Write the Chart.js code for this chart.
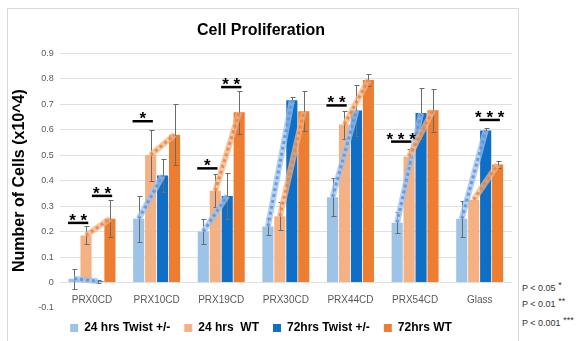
<!DOCTYPE html>
<html>
<head>
<meta charset="utf-8">
<script src="https://cdn.jsdelivr.net/npm/chart.js@4.4.0/dist/chart.umd.min.js"></script>
<style>
    body { margin: 0; background: #fff; width: 576px; height: 341px; overflow: hidden; position: relative; font-family: 'Liberation Sans', Arial, sans-serif; }
    #frame { position: absolute; left: 7px; top: 8px; width: 512px; height: 345px; border: 1px solid #d9d9d9; box-sizing: border-box; }
    #wrap { position: absolute; left: 8px; top: 9px; width: 510px; height: 335px; }
    .pv { position: absolute; left: 522px; font-size: 9px; color: #333; white-space: nowrap; line-height: 10px; }
    .pv span { font-size: 9px; position: relative; top: -3px; }
</style>
</head>
<body>
<div id="frame"></div>
<div id="wrap"><canvas id="cellChart"></canvas></div>
<div class="pv" style="top:283px">P &lt; 0.05 <span>*</span></div>
<div class="pv" style="top:299px">P &lt; 0.01 <span>**</span></div>
<div class="pv" style="top:318px">P &lt; 0.001 <span>***</span></div>
<script>
// Data
const categories = ['PRX0CD', 'PRX10CD', 'PRX19CD', 'PRX30CD', 'PRX44CD', 'PRX54CD', 'Glass'];
const twist24 = [0.015, 0.25, 0.2, 0.22, 0.335, 0.235, 0.25];
const twist24Err = [0.04, 0.09, 0.05, 0.035, 0.075, 0.04, 0.07];
const wt24 = [0.185, 0.5, 0.36, 0.26, 0.62, 0.495, 0.325];
const wt24Err = [0.035, 0.1, 0.065, 0.055, 0.055, 0.03, 0];
const twist72 = [0.005, 0.42, 0.34, 0.715, 0.675, 0.665, 0.597];
const twist72Err = [0.005, 0.065, 0.09, 0.012, 0.1, 0.1, 0.01];
const wt72 = [0.25, 0.58, 0.668, 0.672, 0.795, 0.676, 0.463];
const wt72Err = [0.072, 0.12, 0.085, 0.078, 0.025, 0.085, 0.015];

// Significance markers: category, pair (24 / 72), level, stars
const sigCategory = [0, 0, 1, 2, 2, 4, 5, 6];
const sigPair = [24, 72, 24, 24, 72, 24, 24, 72];
const sigLevel = [0.234, 0.34, 0.633, 0.448, 0.767, 0.695, 0.553, 0.638];
const sigStars = ['**', '**', '*', '*', '**', '**', '***', '***'];

const FONT = "'Liberation Sans', Arial, sans-serif";

/**
 * Error bars, dotted trend lines, significance bars
 */
const overlayPlugin = {
    id: 'overlays',
    afterDatasetsDraw(chart) {
        const c = chart.ctx;
        const yScale = chart.scales.y;
        const metas = [0, 1, 2, 3].map(i => chart.getDatasetMeta(i));
        const values = [twist24, wt24, twist72, wt72];
        const errors = [twist24Err, wt24Err, twist72Err, wt72Err];

        c.save();
        // error bars
        c.strokeStyle = '#6b6b6b';
        c.lineWidth = 1;
        errors.forEach(function(errs, d) {
            metas[d].data.forEach(function(bar, j) {
                if (!errs[j]) return;
                const top = Math.round(yScale.getPixelForValue(values[d][j] + errs[j])) + 0.5;
                const bot = Math.round(yScale.getPixelForValue(values[d][j] - errs[j])) + 0.5;
                const x = Math.round(bar.x) + 0.5;
                c.beginPath();
                c.moveTo(x, top); c.lineTo(x, bot);
                c.moveTo(x - 2, top); c.lineTo(x + 3, top);
                c.moveTo(x - 2, bot); c.lineTo(x + 3, bot);
                c.stroke();
            });
        });

        // dotted trend lines 24hrs -> 72hrs
        function dotted(from, to, band, dot) {
            c.beginPath();
            c.moveTo(from.x, from.y);
            c.lineTo(to.x, to.y);
            c.setLineDash([]);
            c.strokeStyle = band;
            c.lineWidth = 6;
            c.stroke();
            c.setLineDash([3, 3]);
            c.strokeStyle = dot;
            c.lineWidth = 3;
            c.stroke();
        }
        for (let j = 0; j < categories.length; j++) {
            dotted(metas[0].data[j], metas[2].data[j], 'rgba(157,195,235,0.75)', 'rgba(95,150,225,0.9)');
            dotted(metas[1].data[j], metas[3].data[j], 'rgba(246,180,135,0.75)', 'rgba(238,130,60,0.85)');
        }
        c.setLineDash([]);

        // significance
        c.strokeStyle = '#000';
        c.fillStyle = '#000';
        c.lineWidth = 2.5;
        c.font = 'bold 17px ' + FONT;
        c.textAlign = 'center';
        c.textBaseline = 'alphabetic';
        sigCategory.forEach(function(cat, k) {
            const a = metas[sigPair[k] === 24 ? 0 : 2].data[cat];
            const b = metas[sigPair[k] === 24 ? 1 : 3].data[cat];
            const x1 = a.x - a.width * 0.55;
            const x2 = b.x + b.width * 0.2;
            const y = yScale.getPixelForValue(sigLevel[k]);
            c.beginPath();
            c.moveTo(x1, y); c.lineTo(x2, y);
            c.stroke();
            c.fillText(sigStars[k].split('').join(' '), (x1 + x2) / 2, y + 3);
        });
        c.restore();
    }
};

function barSet(label, data, color) {
    return {
        label: label,
        data: data,
        backgroundColor: color,
        borderWidth: 0,
        categoryPercentage: 0.74,
        barPercentage: 0.93
    };
}

new Chart(document.getElementById('cellChart'), {
    type: 'bar',
    data: {
        labels: categories,
        datasets: [
            barSet('24 hrs Twist +/-', twist24, '#9DC3E6'),
            barSet('24 hrs  WT', wt24, '#F4B183'),
            barSet('72hrs Twist +/-', twist72, '#0F6FC6'),
            barSet('72hrs WT', wt72, '#ED7D31')
        ]
    },
    plugins: [overlayPlugin],
    options: {
        responsive: true,
        maintainAspectRatio: false,
        animation: false,
        layout: { padding: { left: 2, right: 6, top: 0, bottom: 0 } },
        plugins: {
            title: {
                display: true,
                text: 'Cell Proliferation',
                color: '#000',
                font: { family: FONT, size: 16, weight: 'bold' },
                padding: { top: 12, bottom: 13 }
            },
            legend: {
                position: 'bottom',
                labels: {
                    boxWidth: 8,
                    boxHeight: 8,
                    padding: 14,
                    color: '#000',
                    font: { family: FONT, size: 12, weight: 'bold' }
                }
            },
            tooltip: { enabled: false }
        },
        scales: {
            x: {
                position: { y: 0 },
                grid: { display: false, drawTicks: false },
                border: { display: false },
                ticks: { color: '#595959', font: { family: FONT, size: 10 }, padding: 12 },
                afterFit: function(scale) { scale.height = 0; }
            },
            y: {
                min: -0.1,
                max: 0.9,
                border: { display: false },
                grid: {
                    drawTicks: false,
                    color: function(ctx) { return ctx.tick && ctx.tick.value < -0.05 ? 'rgba(0,0,0,0)' : '#e0e0e0'; }
                },
                ticks: { stepSize: 0.1, color: '#595959', font: { family: FONT, size: 9 }, padding: 6 },
                title: {
                    display: true,
                    text: 'Number of Cells (x10^4)',
                    color: '#000',
                    font: { family: FONT, size: 16, weight: 'bold' },
                    padding: { top: 0, bottom: 3 }
                }
            }
        }
    }
});
</script>
</body>
</html>
